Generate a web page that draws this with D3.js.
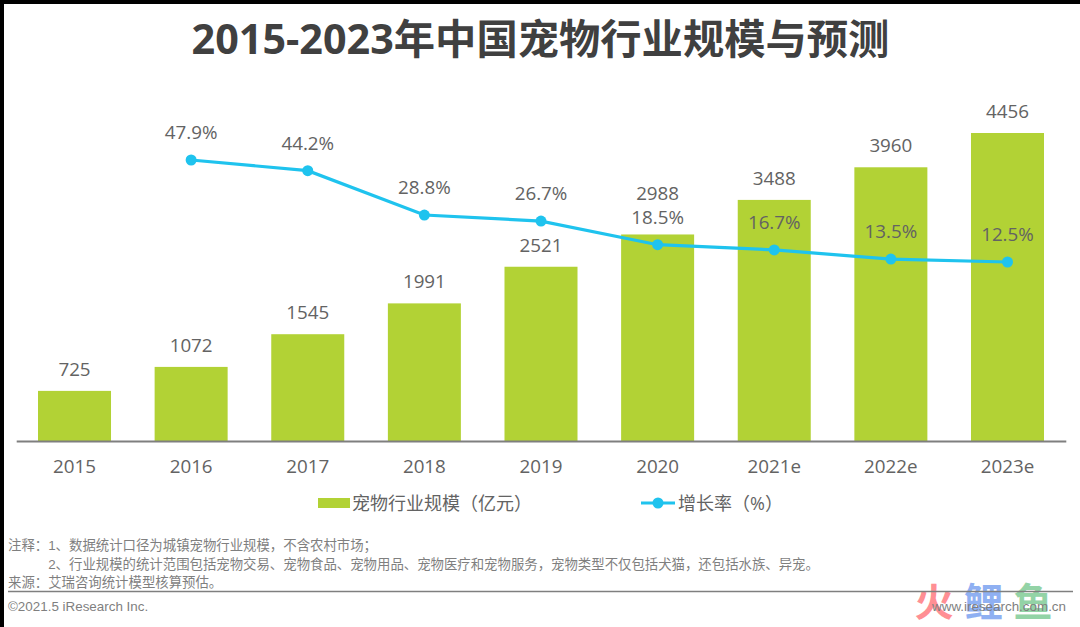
<!DOCTYPE html>
<html>
<head>
<meta charset="utf-8">
<script src="https://cdn.jsdelivr.net/npm/d3@7"></script>
<style>
  html, body { margin: 0; padding: 0; background: #fff; }
  svg { display: block; }
  text { font-family: "Open Sans", "Noto Sans CJK SC", sans-serif; fill: #636363; }
  .note { font-family: "Liberation Sans", "Noto Sans CJK SC", sans-serif; font-size: 13.4px; fill: #7f7f7f; }
</style>
</head>
<body>
<div id="viz_container"></div>
<script>
// chart data
const years = ["2015", "2016", "2017", "2018", "2019", "2020", "2021e", "2022e", "2023e"];
const sizeValues = [725, 1072, 1545, 1991, 2521, 2988, 3488, 3960, 4456];
const growthYears = ["2016", "2017", "2018", "2019", "2020", "2021e", "2022e", "2023e"];
const growthValues = [47.9, 44.2, 28.8, 26.7, 18.5, 16.7, 13.5, 12.5];
const titleText = "2015-2023年中国宠物行业规模与预测";
const legendBar = "宠物行业规模（亿元）";
const legendLine = "增长率（%）";
const notes = [
    "注释：1、数据统计口径为城镇宠物行业规模，不含农村市场；",
    "　　　2、行业规模的统计范围包括宠物交易、宠物食品、宠物用品、宠物医疗和宠物服务，宠物类型不仅包括犬猫，还包括水族、异宠。",
    "来源：艾瑞咨询统计模型核算预估。"
];
const copyright = "©2021.5 iResearch Inc.";
const siteText = "www.iresearch.com.cn";
const stampChars = ["火", "鲤", "鱼"];

const width = 1080, height = 627;
const barColor = "#b2d235", lineColor = "#1fc3ee";

const svg = d3.select("#viz_container")
    .append("svg")
    .attr("width", width)
    .attr("height", height)
    .attr("viewBox", `0 0 ${width} ${height}`);

// white page with the black edge along the top and left
svg.append("rect").attr("width", width).attr("height", height).attr("fill", "#000");
svg.append("rect").attr("x", 4).attr("y", 4).attr("width", width - 4).attr("height", height - 4).attr("fill", "#fff");

// title
svg.append("text")
    .attr("x", 540.5)
    .attr("y", 54)
    .attr("text-anchor", "middle")
    .style("font-size", "41.3px")
    .style("font-weight", 700)
    .style("fill", "#404040")
    .text(titleText);

// scales
const xScale = d3.scaleBand()
    .domain(years)
    .range([16.2, 1065.8])
    .paddingInner(0.374)
    .paddingOuter(0.187);

const yBar = d3.scaleLinear().domain([0, 4456]).range([441, 133]);
const yLine = d3.scaleLinear().domain([12.5, 47.9]).range([262, 160]);
const xMid = d => xScale(d) + xScale.bandwidth() / 2;

// bars
svg.append("g")
    .selectAll("rect")
    .data(sizeValues)
    .join("rect")
    .attr("x", (d, i) => xScale(years[i]))
    .attr("y", d => yBar(d))
    .attr("width", xScale.bandwidth())
    .attr("height", d => yBar(0) - yBar(d))
    .attr("fill", barColor);

// bar labels, the 2020 one is lifted above the growth label
svg.append("g")
    .selectAll("text")
    .data(sizeValues)
    .join("text")
    .attr("x", (d, i) => xMid(years[i]))
    .attr("y", (d, i) => yBar(d) - (years[i] === "2020" ? 34 : 15))
    .attr("text-anchor", "middle")
    .style("font-size", "18.8px")
    .text(d => d);

// x axis
const xAxis = svg.append("g")
    .attr("transform", "translate(0, 441)")
    .call(d3.axisBottom(xScale).tickSize(0).tickPadding(19));
xAxis.attr("font-family", null).attr("font-size", null);
xAxis.select(".domain").attr("stroke", "#7f7f7f").attr("stroke-width", 2);
xAxis.selectAll("text").style("font-size", "18.8px");

// growth line
const line = d3.line()
    .x((d, i) => xMid(growthYears[i]))
    .y(d => yLine(d));

svg.append("path")
    .datum(growthValues)
    .attr("d", line)
    .attr("fill", "none")
    .attr("stroke", lineColor)
    .attr("stroke-width", 3.2);

svg.append("g")
    .selectAll("circle")
    .data(growthValues)
    .join("circle")
    .attr("cx", (d, i) => xMid(growthYears[i]))
    .attr("cy", d => yLine(d))
    .attr("r", 5.5)
    .attr("fill", lineColor);

svg.append("g")
    .selectAll("text")
    .data(growthValues)
    .join("text")
    .attr("x", (d, i) => xMid(growthYears[i]))
    .attr("y", d => yLine(d) - 21)
    .attr("text-anchor", "middle")
    .style("font-size", "18.8px")
    .text(d => d.toFixed(1) + "%");

// legend
svg.append("rect")
    .attr("x", 318).attr("y", 498)
    .attr("width", 32).attr("height", 10)
    .attr("fill", barColor);
svg.append("text")
    .attr("x", 352).attr("y", 509.5)
    .style("font-size", "18px")
    .text(legendBar);
svg.append("line")
    .attr("x1", 641).attr("x2", 675)
    .attr("y1", 503).attr("y2", 503)
    .attr("stroke", lineColor)
    .attr("stroke-width", 3);
svg.append("circle")
    .attr("cx", 658).attr("cy", 503).attr("r", 5.5)
    .attr("fill", lineColor);
svg.append("text")
    .attr("x", 678).attr("y", 509.5)
    .style("font-size", "18px")
    .text(legendLine);

// footnotes
svg.append("g")
    .selectAll("text")
    .data(notes)
    .join("text")
    .attr("class", "note")
    .attr("x", 8)
    .attr("y", (d, i) => 550 + i * 18.5)
    .text(d => d);

// watermark stamp sits under the rule
svg.append("g")
    .selectAll("text")
    .data(stampChars)
    .join("text")
    .attr("x", (d, i) => 934 + i * 49.5)
    .attr("y", 615.5)
    .attr("text-anchor", "middle")
    .style("font-size", "39px")
    .style("font-weight", 700)
    .style("fill", (d, i) => ["#ff8f94", "#8fb0f2", "#93d3a6"][i])
    .text(d => d);

svg.append("line")
    .attr("x1", 8).attr("x2", 1073)
    .attr("y1", 591.5).attr("y2", 591.5)
    .attr("stroke", "#7f7f7f")
    .attr("stroke-width", 1.5);

svg.append("text")
    .attr("class", "note")
    .attr("x", 8).attr("y", 611)
    .text(copyright);

svg.append("text")
    .attr("class", "note")
    .attr("x", 1066).attr("y", 611)
    .attr("text-anchor", "end")
    .text(siteText);
</script>
</body>
</html>
